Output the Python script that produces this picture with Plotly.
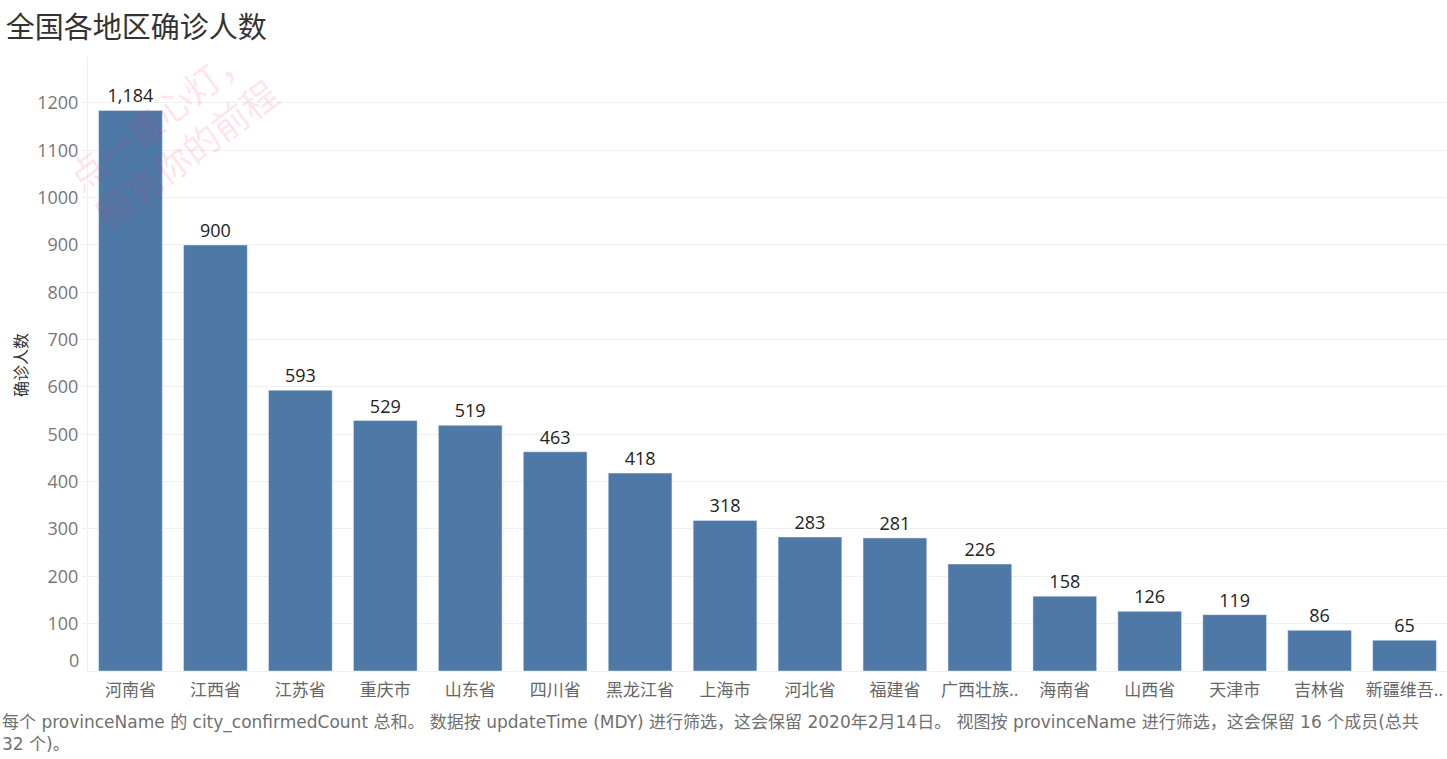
import plotly.graph_objects as go

provinces = ["河南省", "江西省", "江苏省", "重庆市", "山东省", "四川省", "黑龙江省", "上海市",
             "河北省", "福建省", "广西壮族..", "海南省", "山西省", "天津市", "吉林省", "新疆维吾.."]
confirmed = [1184, 900, 593, 529, 519, 463, 418, 318, 283, 281, 226, 158, 126, 119, 86, 65]
y_ticks = [100, 200, 300, 400, 500, 600, 700, 800, 900, 1000, 1100, 1200]

FONT = "'Open Sans', 'Noto Sans CJK SC', sans-serif"
WIDE = "'DejaVu Sans', 'Noto Sans CJK SC', sans-serif"
CJK = "'Noto Sans CJK SC', sans-serif"

W, H = 1447, 759
L, T, B = 88, 57, 88

fig = go.Figure(go.Bar(
    x=provinces, y=confirmed,
    marker_color="#4E79A7",
    texttemplate="%{y:,}", textposition="outside",
    textfont=dict(size=18, color="#222", family=FONT),
    cliponaxis=False,
))

fig.update_layout(
    width=W, height=H,
    margin=dict(l=L, r=0, t=T, b=B, autoexpand=False),
    plot_bgcolor="white", paper_bgcolor="white",
    bargap=0.25,
    showlegend=False,
    font=dict(family=FONT),
    title=dict(text="全国各地区确诊人数", x=0.004, xanchor="left", y=1 - 28 / H, yanchor="middle",
               font=dict(size=29, color="#333", family=CJK)),
)
fig.update_yaxes(
    range=[0, 1297], tickvals=y_ticks, showgrid=True, gridcolor="#f0f0f0",
    tickfont=dict(size=18, color="#777"), ticks="outside", ticklen=5, tickcolor="#f0f0f0",
    showline=True, linecolor="#f0f0f0", zeroline=False, automargin=False,
)
fig.update_xaxes(
    tickfont=dict(size=17, color="#666", family=CJK), showline=True, linecolor="#f0f0f0",
    ticks="", showgrid=False, automargin=False, ticklabelstandoff=4,
)

# y axis title
fig.add_annotation(text="确诊人数", xref="paper", yref="paper",
                   x=(20 - L) / (W - L), y=(H - B - 365) / (H - T - B),
                   textangle=-90, showarrow=False, xanchor="center", yanchor="middle",
                   font=dict(size=16, color="#333", family=CJK))

# Tableau style: the zero label sits a bit above the baseline
fig.add_annotation(text="0", xref="paper", yref="y", x=0, y=0, xanchor="right", yanchor="middle",
                   xshift=-7, yshift=11, showarrow=False, font=dict(size=18, color="#777"))

fig.add_annotation(
    text="每个 provinceName 的 city_confirmedCount 总和。 数据按 updateTime (MDY) 进行筛选，这会保留 2020年2月14日。 "
         "视图按 provinceName 进行筛选，这会保留 16 个成员(总共<br>32 个)。",
    xref="paper", yref="paper", x=-L / (W - L), y=-(710 - (H - B)) / (H - T - B),
    xanchor="left", yanchor="top",
    align="left", showarrow=False, font=dict(size=17, color="#707070", family=WIDE),
)

# watermark
fig.add_annotation(
    text="点一盏心灯，<br>照亮你的前程", xref="paper", yref="paper",
    x=(172 - L) / (W - L), y=(H - B - 134) / (H - T - B), xanchor="center", yanchor="middle",
    textangle=-37, showarrow=False, align="left",
    font=dict(size=36, color="rgba(255,40,100,0.14)", family=CJK),
)

fig.write_html("out.html", config={"displayModeBar": False},
               post_script="document.body.style.margin='0';")
